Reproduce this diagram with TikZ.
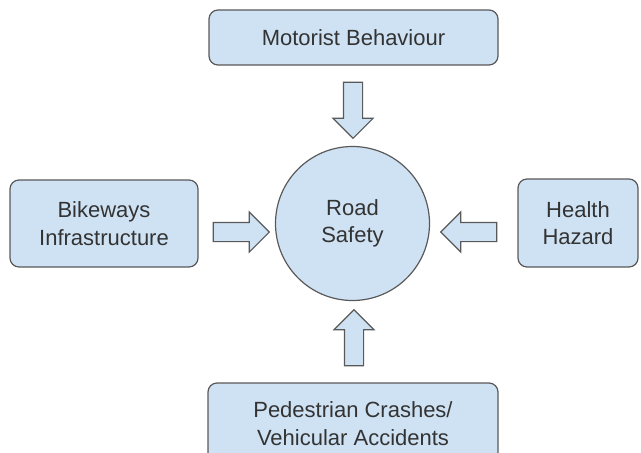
\documentclass[tikz,border=0pt]{standalone}
\usepackage{fontspec}
\setmainfont{Liberation Sans}
\usetikzlibrary{shapes.arrows}
\usetikzlibrary{positioning}
\definecolor{boxfill}{HTML}{CFE2F3}
\definecolor{boxline}{HTML}{595959}
\definecolor{boxtext}{HTML}{333333}
\tikzset{
    Box/.style = {rectangle, rounded corners=9pt, draw=boxline, fill=boxfill,
        line width=1.2pt, align=center, text=boxtext, inner sep=0pt}
}
\tikzset{
    Hub/.style = {circle, draw=boxline, fill=boxfill, line width=1.2pt,
        align=center, text=boxtext, minimum size=154pt, inner sep=0pt}
}
\tikzset{
    BlockArrow/.style = {single arrow, draw=boxline, fill=boxfill, line width=1.1pt,
        inner xsep=0pt, inner ysep=9pt, minimum height=56pt,
        single arrow head extend=10.5pt}
}
\begin{document}
\begin{tikzpicture}[
    x=1pt, y=1pt,
    font=\fontsize{22}{27.5}\selectfont
]
\useasboundingbox (0,0) rectangle (641,-453);
\node[Hub] at (352.5,-223.5) (road) {Road\\Safety};
\node[Box, minimum width=289pt, minimum height=55pt] at (353.5,-37.5) (motorist) {Motorist Behaviour};
\node[Box, minimum width=188pt, minimum height=87pt] at (104,-223.5) (bike) {Bikeways\\Infrastructure};
\node[Box, minimum width=120pt, minimum height=88pt] at (578,-223) (health) {Health\\Hazard};
\node[Box, minimum width=290pt, minimum height=81pt] at (353,-423.5) (crash) {Pedestrian Crashes/\\Vehicular Accidents};
\node[BlockArrow, rotate=-90] at (353,-105.5) (a1) {};
\node[BlockArrow] at (236.5,-232) (a2) {};
\node[BlockArrow, rotate=180] at (473.5,-232) (a3) {};
\node[BlockArrow, rotate=90] at (354,-342.5) (a4) {};
\end{tikzpicture}
\end{document}
